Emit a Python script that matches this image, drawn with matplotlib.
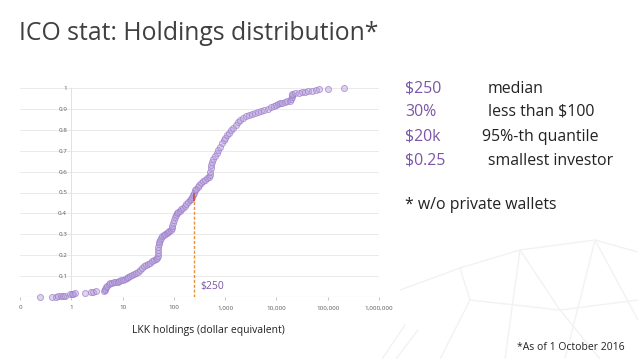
import matplotlib.pyplot as plt
from matplotlib.ticker import FixedLocator, FixedFormatter, NullLocator

plt.rcParams['font.family'] = ['Open Sans', 'DejaVu Sans']

# holdings per investor (USD) and cumulative share of investors
holdings = [0.25, 0.42, 0.5, 0.56, 0.64, 0.7, 0.76, 0.95, 1.02, 1.1, 1.2, 1.85, 2.4, 2.7, 3.0,
            4.4, 4.5, 4.6, 4.8, 5.0, 5.4, 5.8, 6.3, 6.8, 7.4, 8.0, 8.7, 9.4, 10.2, 11, 12, 13, 14,
            15.5, 17, 18.6, 20, 22, 24, 26, 28.5, 31, 34, 38, 41, 44, 46.5, 48, 48.5, 49, 49.5,
            50.5, 52, 54, 57, 60, 64, 68, 72, 77, 82, 87, 91, 94, 97, 100, 104, 108, 114, 122,
            130, 140, 150, 162, 175, 188, 202, 215, 228, 240, 250, 262, 275, 290, 310, 335, 365,
            400, 440, 480, 505, 515, 525, 540, 560, 590, 630, 680, 740, 800, 860, 930, 1010, 1100,
            1200, 1320, 1450, 1600, 1780, 1980, 2250, 2550, 2900, 3300, 3800, 4400, 5000, 5800,
            6700, 7700, 8800, 9800, 10500, 11500, 13000, 14500, 16000, 18000, 19500, 19800, 20000,
            20500, 23000, 27000, 31000, 36000, 42000, 50000, 58000, 68000, 100000, 205000]
share = [0.0, 0.0, 0.0, 0.003, 0.005, 0.005, 0.006, 0.012, 0.015, 0.016, 0.017, 0.02, 0.022, 0.025, 0.027,
         0.03, 0.035, 0.04, 0.048, 0.055, 0.06, 0.065, 0.068, 0.07, 0.072, 0.074, 0.077, 0.08, 0.083, 0.087,
         0.092, 0.098, 0.102, 0.106, 0.11, 0.115, 0.12, 0.127, 0.138, 0.148, 0.155, 0.16, 0.165, 0.17, 0.175,
         0.18, 0.185, 0.195, 0.21, 0.225, 0.24, 0.255, 0.265, 0.275, 0.283, 0.29, 0.296, 0.3, 0.305, 0.31,
         0.316, 0.322, 0.33, 0.34, 0.355, 0.37, 0.382, 0.392, 0.4, 0.407, 0.413, 0.42, 0.428, 0.436, 0.445,
         0.455, 0.462, 0.47, 0.48, 0.49, 0.5, 0.51, 0.518, 0.526, 0.535, 0.545, 0.553, 0.56, 0.567, 0.575,
         0.585, 0.6, 0.615, 0.63, 0.645, 0.66, 0.675, 0.69, 0.705, 0.72, 0.735, 0.75, 0.762, 0.775, 0.787,
         0.8, 0.81, 0.822, 0.835, 0.845, 0.857, 0.865, 0.87, 0.875, 0.88, 0.885, 0.89, 0.895, 0.9, 0.907,
         0.913, 0.918, 0.925, 0.928, 0.93, 0.933, 0.936, 0.94, 0.945, 0.955, 0.965, 0.972, 0.975, 0.978,
         0.98, 0.982, 0.985, 0.988, 0.99, 0.993, 0.996, 1.0]

median = 250
x_ticks = [0.1, 1, 10, 100, 1000, 10000, 100000, 1000000]
x_labels = ['0', '1', '10', '100', '1,000', '10,000', '100,000', '1,000,000']
y_ticks = [0, 0.1, 0.2, 0.3, 0.4, 0.5, 0.6, 0.7, 0.8, 0.9, 1]
y_labels = ['0', '0.1', '0.2', '0.3', '0.4', '0.5', '0.6', '0.7', '0.8', '0.9', '1']

stats = [('$250', 'median'), ('30%', 'less than $100'), ('$20k', '95%-th quantile'),
         ('$0.25', 'smallest investor')]

purple = '#7b56a6'
dark = '#404040'

fig = plt.figure(figsize=(6.38, 3.59), dpi=100)

# very faint wireframe decoration in the lower right corner
bg = fig.add_axes([0, 0, 1, 1], zorder=-1)
bg.set_xlim(0, 638)
bg.set_ylim(359, 0)
bg.axis('off')
wire = [((595, 240), (638, 252)), ((595, 240), (520, 250)), ((520, 250), (460, 268)),
        ((460, 268), (400, 290)), ((595, 240), (565, 359)), ((595, 240), (638, 320)),
        ((520, 250), (505, 359)), ((460, 268), (470, 300)), ((470, 300), (440, 359)),
        ((470, 300), (560, 310)), ((560, 310), (638, 300)), ((520, 250), (560, 310)),
        ((560, 310), (600, 359)), ((382, 359), (405, 325)), ((396, 359), (418, 330))]
for (x0, y0), (x1, y1) in wire:
    bg.plot([x0, x1], [y0, y1], color='#f2f2f2', lw=1.0, solid_capstyle='round')

ax = fig.add_axes([20 / 638, 1 - 297 / 359, 359 / 638, 209 / 359])
ax.set_xscale('log')
ax.set_xlim(0.1, 1e6)
ax.set_ylim(0, 1)

for y in y_ticks[1:]:
    ax.axhline(y, color='#e6e6e6', lw=0.6, zorder=0)
ax.axhline(0, color='#c8c8c8', lw=0.8, zorder=1)

for s in ['top', 'right', 'bottom']:
    ax.spines[s].set_visible(False)
ax.spines['left'].set_position(('data', 1))
ax.spines['left'].set_color('#dddddd')
ax.spines['left'].set_linewidth(0.6)

ax.xaxis.set_major_locator(FixedLocator(x_ticks))
ax.xaxis.set_major_formatter(FixedFormatter(x_labels))
ax.xaxis.set_minor_locator(NullLocator())
ax.yaxis.set_major_locator(FixedLocator(y_ticks))
ax.yaxis.set_major_formatter(FixedFormatter(y_labels))
ax.tick_params(axis='x', length=2, color='#c8c8c8', labelsize=4.5, labelcolor='#595959', pad=4)
ax.tick_params(axis='y', length=0, labelsize=4.5, labelcolor='#595959', pad=3)

ax.scatter(holdings, share, s=19, facecolor=(0.72, 0.63, 0.86, 0.45),
           edgecolor=(0.62, 0.50, 0.80, 0.7), linewidths=0.7, zorder=3, clip_on=False)

ax.vlines(median, 0, 0.5, colors='#e8923a', linestyles=(0, (2.2, 1.3)), lw=1.0, zorder=4)
ax.vlines(median, 0.46, 0.5, colors='#c9564f', lw=1.4, zorder=5)
ax.text(330, 0.05, '$250', color=purple, fontsize=7.5, va='center', ha='left')

fig.text(208 / 638, 1 - 330 / 359, 'LKK holdings (dollar equivalent)', fontsize=7.5,
         color='#222222', ha='center', va='center')

fig.text(19 / 638, 1 - 40 / 359, 'ICO stat: Holdings distribution*', fontsize=17.8,
         color=dark, ha='left', va='baseline')

rows_y = [89, 112, 137, 161]
desc_x = [488, 488, 482, 488]
for (val, desc), py, dx in zip(stats, rows_y, desc_x):
    fig.text(405 / 638, 1 - py / 359, val, fontsize=11.4, color=purple, ha='left', va='center')
    fig.text(dx / 638, 1 - py / 359, desc, fontsize=11.4, color='#222222', ha='left', va='center')
fig.text(405 / 638, 1 - 205 / 359, '* w/o private wallets', fontsize=11.4, color='#222222',
         ha='left', va='center')

fig.text(625 / 638, 1 - 347 / 359, '*As of 1 October 2016', fontsize=7.5, color='#222222',
         ha='right', va='center')

fig.savefig('out.png', dpi=100)
